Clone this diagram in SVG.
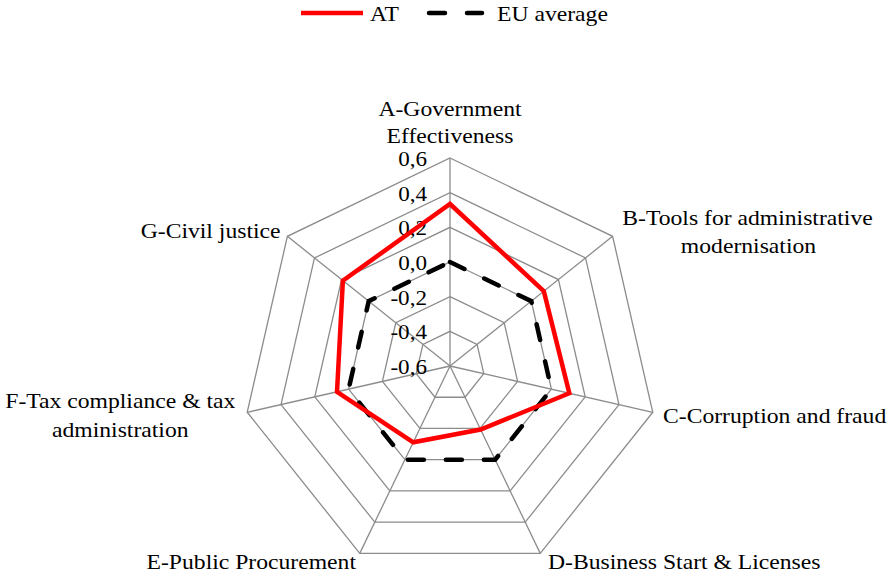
<svg xmlns="http://www.w3.org/2000/svg" width="889" height="578" viewBox="0 0 889 578">
<rect width="889" height="578" fill="#fff"/>
<g id="legend">
<line x1="301" y1="13" x2="363" y2="13" stroke="#ff0000" stroke-width="4.5"/>
<line x1="429" y1="13" x2="482" y2="13" stroke="#000" stroke-width="4.5" stroke-linecap="round" stroke-dasharray="16 22"/>
<text font-family="Liberation Serif" font-size="21.5" x="370" y="21" transform="matrix(1.1 0 0 1 -37 0)">AT</text>
<text font-family="Liberation Serif" font-size="21.5" x="497" y="21" transform="matrix(1.1 0 0 1 -49.7 0)">EU average</text>
</g>
<g id="grid" fill="none" stroke="#8c8c8c" stroke-width="1.3">
<polygon points="450,331.33 477.1,344.39 483.8,373.71 465.04,397.23 434.96,397.23 416.2,373.71 422.9,344.39"/>
<polygon points="450,296.67 504.21,322.77 517.6,381.43 480.08,428.47 419.92,428.47 382.4,381.43 395.79,322.77"/>
<polygon points="450,262 531.31,301.16 551.39,389.14 495.12,459.7 404.88,459.7 348.61,389.14 368.69,301.16"/>
<polygon points="450,227.33 558.42,279.54 585.19,396.86 510.17,490.94 389.83,490.94 314.81,396.86 341.58,279.54"/>
<polygon points="450,192.67 585.52,257.93 618.99,404.57 525.21,522.17 374.79,522.17 281.01,404.57 314.48,257.93"/>
<polygon points="450,158 612.62,236.31 652.79,412.28 540.25,553.4 359.75,553.4 247.21,412.28 287.38,236.31"/>
<line x1="450" y1="366" x2="450" y2="158"/>
<line x1="450" y1="366" x2="612.62" y2="236.31"/>
<line x1="450" y1="366" x2="652.79" y2="412.28"/>
<line x1="450" y1="366" x2="540.25" y2="553.4"/>
<line x1="450" y1="366" x2="359.75" y2="553.4"/>
<line x1="450" y1="366" x2="247.21" y2="412.28"/>
<line x1="450" y1="366" x2="287.38" y2="236.31"/>
</g>
<g id="ticks">
<text font-family="Liberation Serif" font-size="21" text-anchor="end" x="388.18" y="166" transform="scale(1.1 1)">0,6</text>
<text font-family="Liberation Serif" font-size="21" text-anchor="end" x="388.18" y="200.7" transform="scale(1.1 1)">0,4</text>
<text font-family="Liberation Serif" font-size="21" text-anchor="end" x="388.18" y="235.3" transform="scale(1.1 1)">0,2</text>
<text font-family="Liberation Serif" font-size="21" text-anchor="end" x="388.18" y="270" transform="scale(1.1 1)">0,0</text>
<text font-family="Liberation Serif" font-size="21" text-anchor="end" x="388.18" y="304.7" transform="scale(1.1 1)">-0,2</text>
<text font-family="Liberation Serif" font-size="21" text-anchor="end" x="388.18" y="339.3" transform="scale(1.1 1)">-0,4</text>
<text font-family="Liberation Serif" font-size="21" text-anchor="end" x="388.18" y="374" transform="scale(1.1 1)">-0,6</text>
</g>
<g id="connectors" fill="none" stroke-width="4.5">
<polygon id="series-eu" stroke="#000" stroke-linecap="round" stroke-dasharray="16 22" points="450,262 531.31,301.16 551.39,389.14 495.12,459.7 404.88,459.7 348.61,389.14 368.69,301.16"/>
<polygon id="series-at" stroke="#ff0000" stroke-linejoin="miter" points="450,204 543.82,291.18 569.33,393.24 480.59,429.52 413.25,442.31 337.01,391.79 342.89,280.58"/>
</g>
<g id="axis-A">
<text font-family="Liberation Serif" font-size="21.5" x="409.09" y="116" text-anchor="middle" transform="scale(1.1 1)">A-Government</text>
<text font-family="Liberation Serif" font-size="21.5" x="409.09" y="143.3" text-anchor="middle" transform="scale(1.1 1)">Effectiveness</text>
</g>
<g id="axis-B">
<text font-family="Liberation Serif" font-size="21.5" x="679.55" y="225" text-anchor="middle" transform="scale(1.1 1)">B-Tools for administrative</text>
<text font-family="Liberation Serif" font-size="21.5" x="680.45" y="253.3" text-anchor="middle" transform="scale(1.1 1)">modernisation</text>
</g>
<g id="axis-C">
<text font-family="Liberation Serif" font-size="21.5" x="602.73" y="423.3" transform="scale(1.1 1)">C-Corruption and fraud</text>
</g>
<g id="axis-D">
<text font-family="Liberation Serif" font-size="21.5" x="498.18" y="569.5" transform="scale(1.1 1)">D-Business Start &amp; Licenses</text>
</g>
<g id="axis-E">
<text font-family="Liberation Serif" font-size="21.5" x="323.64" y="569.5" text-anchor="end" transform="scale(1.1 1)">E-Public Procurement</text>
</g>
<g id="axis-F">
<text font-family="Liberation Serif" font-size="21.5" x="109.36" y="408.3" text-anchor="middle" transform="scale(1.1 1)">F-Tax compliance &amp; tax</text>
<text font-family="Liberation Serif" font-size="21.5" x="109.36" y="437.3" text-anchor="middle" transform="scale(1.1 1)">administration</text>
</g>
<g id="axis-G">
<text font-family="Liberation Serif" font-size="21.5" x="127.91" y="238.3" transform="scale(1.1 1)">G-Civil justice</text>
</g>
</svg>
